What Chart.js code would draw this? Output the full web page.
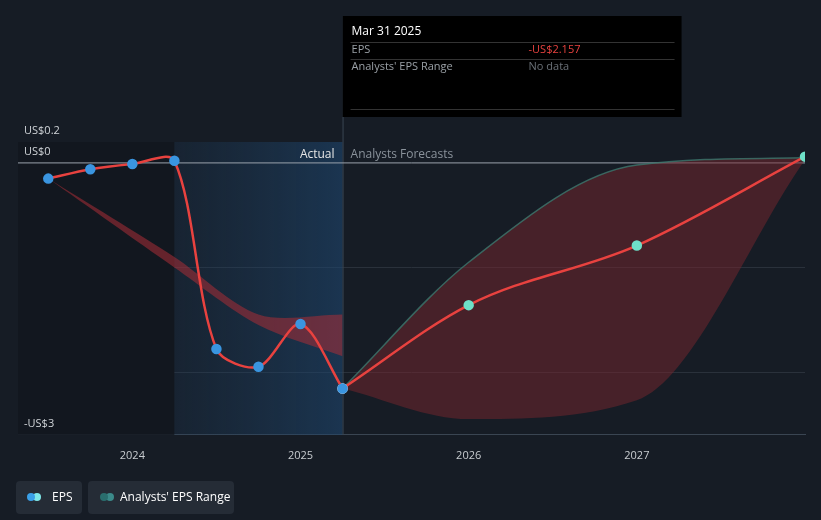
<!DOCTYPE html>
<html><head><meta charset="utf-8">
<script src="https://cdn.jsdelivr.net/npm/chart.js@4"></script>
<style>
html,body{margin:0;padding:0;background:#161c25;}
#wrap{position:relative;width:821px;height:520px;}
</style></head>
<body><div id="wrap"><canvas id="c" width="821" height="520"></canvas></div>
<script>
// actual EPS (decimal year, US$)
const actualX = [2023.5, 2023.75, 2024.0, 2024.25, 2024.5, 2024.75, 2025.0, 2025.25];
const actualY = [-0.15, -0.06, -0.01, 0.02, -1.78, -1.95, -1.54, -2.157];
const forecastX = [2025.25, 2026.0, 2027.0, 2028.0];
const forecastY = [-2.157, -1.36, -0.79, 0.06];
const rangeHighX = [2025.25, 2026.0, 2027.0, 2028.0];
const rangeHighY = [-2.157, -0.95, -0.02, 0.05];
const rangeLowY = [-2.157, -2.45, -2.27, 0.03];
const pastBandX = [2023.5, 2024.25, 2024.75, 2025.25];
const pastBandHi = [-0.15, -0.9, -1.45, -1.45];
const pastBandLo = [-0.15, -1.0, -1.55, -1.85];
const yLabels = [[0.2, 'US$0.2'], [0, 'US$0'], [-2.6, '-US$3']];

const pts = (xs, ys) => xs.map((x, i) => ({x, y: ys[i]}));

const bgPlugin = {
  id: 'bg',
  beforeDatasetsDraw(chart) {
    const {ctx, chartArea: a, scales: {x, y}} = chart;
    const x1 = x.getPixelForValue(2024.25), x2 = x.getPixelForValue(2025.25);
    ctx.save();
    ctx.fillStyle = '#12171f';
    ctx.fillRect(a.left, a.top, x1 - a.left, a.bottom - a.top);
    const g = ctx.createLinearGradient(x1, 0, x2, 0);
    g.addColorStop(0, 'rgba(30,60,90,0.25)');
    g.addColorStop(1, 'rgba(30,70,110,0.6)');
    ctx.fillStyle = g;
    ctx.fillRect(x1, a.top, x2 - x1, a.bottom - a.top);
    ctx.strokeStyle = '#3a4552';
    ctx.beginPath(); ctx.moveTo(x2 + 0.5, 16); ctx.lineTo(x2 + 0.5, a.bottom); ctx.stroke();
    ctx.strokeStyle = '#9aa3ad';
    const y0 = y.getPixelForValue(0);
    ctx.beginPath(); ctx.moveTo(a.left, y0); ctx.lineTo(a.right, y0); ctx.stroke();
    ctx.font = '12px "Open Sans", sans-serif';
    ctx.fillStyle = '#e6e6e6'; ctx.textAlign = 'right';
    ctx.fillText('Actual', x2 - 8, y0 - 5);
    ctx.fillStyle = '#8a929b'; ctx.textAlign = 'left';
    ctx.fillText('Analysts Forecasts', x2 + 8, y0 - 5);
    ctx.font = '11px "Open Sans", sans-serif';
    ctx.fillStyle = '#d0d4d8';
    yLabels.forEach(([v, t]) => ctx.fillText(t, 24, y.getPixelForValue(v) - 8));
    ctx.restore();
  },
  afterDraw(chart) {
    const {ctx} = chart;
    const x2 = chart.scales.x.getPixelForValue(2025.25);
    ctx.save();
    ctx.fillStyle = '#000';
    ctx.fillRect(x2, 16, 339, 101);
    ctx.font = '12px "Open Sans", sans-serif';
    ctx.fillStyle = '#fff';
    ctx.fillText('Mar 31 2025', x2 + 9, 35);
    ctx.strokeStyle = '#333';
    [42, 59, 109].forEach(yy => { ctx.beginPath(); ctx.moveTo(x2 + 8, yy + 0.5); ctx.lineTo(x2 + 332, yy + 0.5); ctx.stroke(); });
    ctx.font = '11px "Open Sans", sans-serif';
    ctx.fillStyle = '#9aa0a6';
    ctx.fillText('EPS', x2 + 9, 53);
    ctx.fillText("Analysts' EPS Range", x2 + 9, 70);
    ctx.fillStyle = '#e8423f';
    ctx.fillText('-US$2.157', x2 + 186, 53);
    ctx.fillStyle = '#6b7178';
    ctx.fillText('No data', x2 + 186, 70);
    ctx.fillStyle = '#252c36';
    ctx.beginPath(); ctx.roundRect(16, 481, 66, 33, 4); ctx.fill();
    ctx.beginPath(); ctx.roundRect(88, 481, 146, 33, 4); ctx.fill();
    const dots = (x, c1, c2) => {
      ctx.fillStyle = c2; ctx.beginPath(); ctx.arc(x + 6, 497, 4, 0, 7); ctx.fill();
      ctx.fillStyle = c1; ctx.beginPath(); ctx.arc(x, 497, 4, 0, 7); ctx.fill();
    };
    dots(31, '#3aa0e8', '#7fe8e8');
    dots(104, '#2a6e6e', '#3b8a8a');
    ctx.fillStyle = '#fff'; ctx.font = '12px "Open Sans", sans-serif';
    ctx.fillText('EPS', 52, 501);
    ctx.fillText("Analysts' EPS Range", 120, 501);
    ctx.restore();
  }
};

new Chart(document.getElementById('c'), {
  type: 'line',
  data: {
    datasets: [
      {data: pts(pastBandX, pastBandHi), borderWidth: 0, pointRadius: 0, tension: 0.3, fill: false, order: 2},
      {data: pts(pastBandX, pastBandLo), borderWidth: 0, pointRadius: 0, tension: 0.3, order: 2,
        fill: '-1', backgroundColor: 'rgba(170,45,55,0.55)'},
      {data: pts(rangeHighX, rangeHighY), borderWidth: 1.5, borderColor: 'rgba(60,120,110,0.8)', pointRadius: 0, cubicInterpolationMode: 'monotone', fill: false, order: 2},
      {data: pts(rangeHighX, rangeLowY), borderWidth: 0, pointRadius: 0, cubicInterpolationMode: 'monotone', order: 2,
        fill: '-1', backgroundColor: 'rgba(120,38,45,0.5)'},
      {data: pts(actualX, actualY), borderColor: '#e8423f', borderWidth: 2.5, tension: 0.3, order: 0,
        pointRadius: 4, pointBackgroundColor: '#3a95e0', pointBorderColor: '#3a95e0'},
      {data: pts(forecastX, forecastY), borderColor: '#e8423f', borderWidth: 2.5, cubicInterpolationMode: 'monotone', order: 1,
        pointRadius: 4, pointBackgroundColor: ['#3a95e0', '#6ee0c8', '#6ee0c8', '#6ee0c8'],
        pointBorderColor: ['#fff', '#6ee0c8', '#6ee0c8', '#6ee0c8']}
    ]
  },
  options: {
    responsive: false, animation: false,
    layout: {padding: {left: 18, right: 16, top: 142, bottom: 52}},
    plugins: {legend: {display: false}, tooltip: {enabled: false}},
    scales: {
      x: {type: 'linear', min: 2023.32, max: 2028.0,
        grid: {display: false}, border: {color: '#3a4552'},
        afterBuildTicks: s => { s.ticks = [2024, 2025, 2026, 2027].map(v => ({value: v})); },
        ticks: {color: '#c8ccd0', font: {size: 11, family: '"Open Sans", sans-serif'}, padding: 6, callback: v => String(v)}},
      y: {min: -2.6, max: 0.2, display: true,
        afterBuildTicks: s => { s.ticks = [-1, -2].map(v => ({value: v})); },
        grid: {color: '#2a313b', drawTicks: false},
        border: {display: false},
        ticks: {display: false}}
    }
  },
  plugins: [bgPlugin]
});
</script></body></html>
